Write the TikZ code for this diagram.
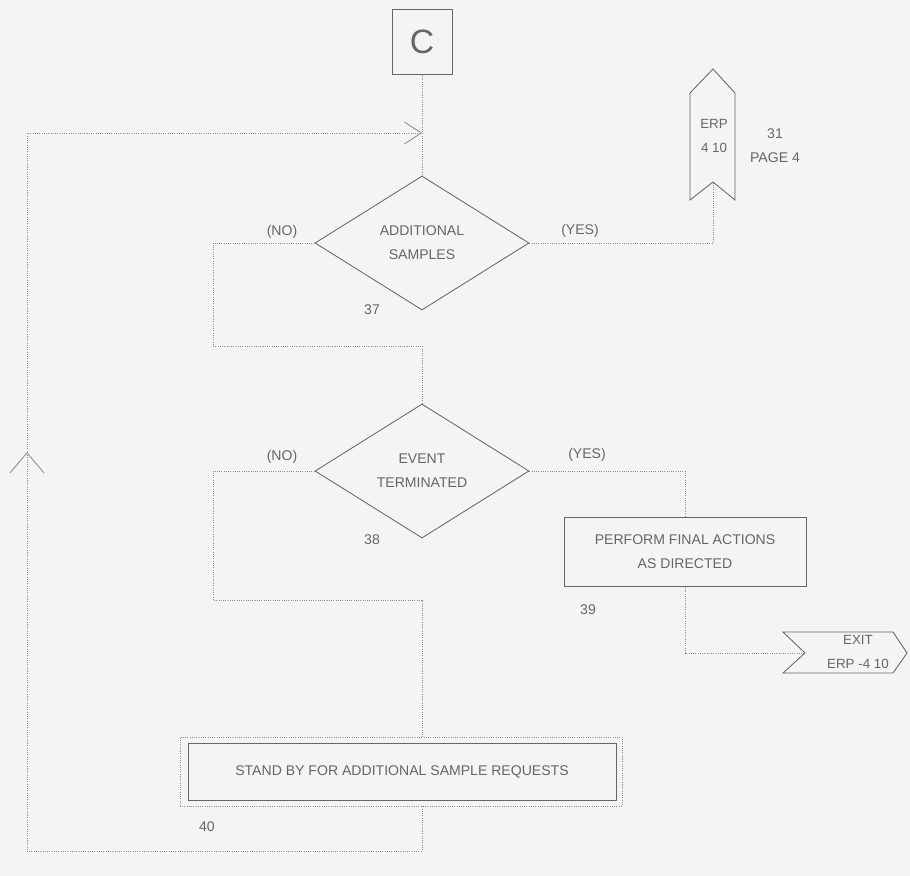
\documentclass[tikz,border=0pt]{standalone}
\usepackage{fontspec}
\setmainfont{Liberation Sans}
\usepackage{xcolor}
\usetikzlibrary{arrows.meta,shapes.geometric,decorations.markings}

\definecolor{paper}{gray}{0.955}
\definecolor{ink}{gray}{0.40}
\definecolor{trace}{gray}{0.55}

\begin{document}
\begin{tikzpicture}[
    x=0.025cm, y=-0.025cm,
    font=\fontsize{10}{17}\selectfont, text=ink,
    procbox/.style={draw=ink, line width=0.6pt, align=center, inner sep=0pt},
    decision/.style={draw=ink, line width=0.6pt, diamond, align=center, inner sep=0pt, minimum width=5.35cm, minimum height=3.35cm},
    tag/.style={inner sep=0pt},
    flow/.style={draw=trace, densely dotted, line width=0.6pt},
    arrow/.style={flow, -{Straight Barb[length=4.2mm, width=5.5mm, line width=0.6pt]}},
    backmark/.style={postaction={decorate}, decoration={markings,
        mark=at position 0.54 with {\arrow[line width=0.6pt]{Straight Barb[length=5mm, width=8.5mm]}}}}
  ]
    \useasboundingbox (0,0) rectangle (910,876);
    \fill[paper] (0,0) rectangle (910,876);

    % main column
    \node[procbox, minimum width=1.5cm, minimum height=1.625cm, font=\fontsize{24}{24}\selectfont] (c) at (422,42) {C};
    \node[decision] (d37) at (422,243) {ADDITIONAL\\SAMPLES};
    \node[decision] (d38) at (422,471) {EVENT\\TERMINATED};
    \node[procbox, minimum width=6.05cm, minimum height=1.725cm] (b39) at (685,552) {PERFORM FINAL ACTIONS\\AS DIRECTED};
    \node[procbox, draw=trace, densely dotted, minimum width=11.05cm, minimum height=1.725cm] (b40) at (401,771.5) {};
    \node[procbox, minimum width=10.7cm, minimum height=1.425cm] (b40in) at (402,771.5) {STAND BY FOR ADDITIONAL SAMPLE REQUESTS};

    % off-page connector and exit
    \draw[ink, line width=0.6pt] (690,93) -- (713,69) -- (735,93) -- (735,200) -- (713,182) -- (690,200) -- cycle;
    \coordinate (erpin) at (713,182);
    \node[tag, align=center, font=\fontsize{9.5}{17}\selectfont] (erp) at (714,136) {ERP\\4 10};
    \node[tag, align=center] (pg) at (775,146) {31\\PAGE 4};

    \draw[ink, line width=0.6pt] (783,632) -- (893,632) -- (907,653) -- (893,673) -- (783,673) -- (805,653) -- cycle;
    \coordinate (exitin) at (805,653);
    \node[tag, align=center, font=\fontsize{9.5}{17}\selectfont] (exit) at (858,652) {EXIT\\ERP -4 10};

    % labels
    \node[tag] (no37) at (282,232) {(NO)};
    \node[tag] (yes37) at (580,231) {(YES)};
    \node[tag] (no38) at (282,457) {(NO)};
    \node[tag] (yes38) at (587,455) {(YES)};
    \node[tag] (n37) at (372,310) {37};
    \node[tag] (n38) at (372,540) {38};
    \node[tag] (n39) at (588,610) {39};
    \node[tag] (n40) at (207,827) {40};

    % connectors
    \coordinate (loopin) at (422,133);
    \draw[flow] (c.south) -- (d37.north);
    \draw[flow] (d37.east) -| (erpin);
    \draw[flow] (d37.west) -| (213,346) -- (422,346) -- (d38.north);
    \draw[flow] (d38.east) -| (b39.north);
    \draw[flow] (d38.west) -| (213,600) -- (422,600) -- (d38.south |- b40.north);
    \draw[flow] (b39.south) |- (exitin);
    \draw[arrow, backmark] (d38.south |- b40.south) -- (422,851) -| (27,133) -- (loopin);
  \end{tikzpicture}
\end{document}
